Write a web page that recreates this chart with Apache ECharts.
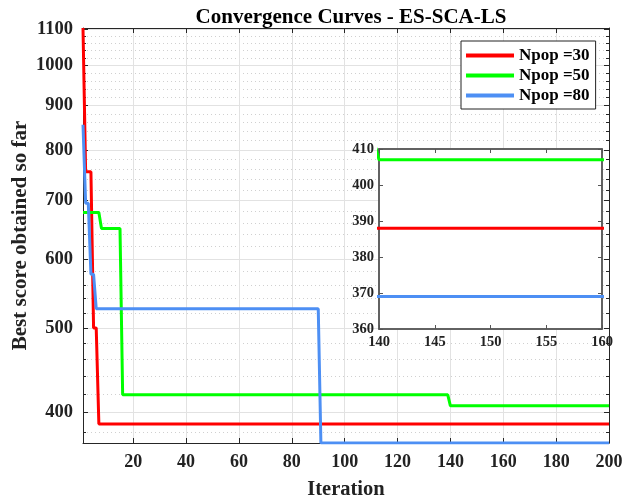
<!DOCTYPE html>
<html>
<head>
<meta charset="utf-8">
<script src="https://cdn.jsdelivr.net/npm/echarts@6/dist/echarts.min.js"></script>
<style>
  html, body { margin: 0; padding: 0; background: #fff; }
  #main { width: 630px; height: 500px; }
</style>
</head>
<body>
<div id="main"></div>
<script>
// step points of each curve (iteration, best score)
var names = ['Npop =30', 'Npop =50', 'Npop =80'];
var colors = ['#ff0000', '#00ff00', '#4d8ff4'];

var iterRed = [1, 2, 4, 5, 6, 7, 200];
var valRed = [1104, 755, 755, 500, 500, 388, 388];
var iterGreen = [1, 7, 8, 15, 16, 139, 140, 200];
var valGreen = [678, 678, 650, 650, 419, 419, 407, 407];
var iterBlue = [1, 2, 3, 4, 5, 6, 90, 91, 200];
var valBlue = [855, 695, 695, 576, 576, 526, 526, 369, 369];

// tick labels
var xTicks = [20, 40, 60, 80, 100, 120, 140, 160, 180, 200];
var yTicks = [400, 500, 600, 700, 800, 900, 1000, 1100];
var yMinorTicks = [380, 420, 440, 460, 480, 520, 540, 560, 580, 620, 640, 660, 680,
  720, 740, 760, 780, 820, 840, 860, 880, 920, 940, 960, 980, 1020, 1040, 1060, 1080];

var FONT = "'Liberation Serif', 'Times New Roman', serif";
var AXC = '#262626';

function pairs(xs, ys) {
  var out = [];
  for (var i = 0; i < xs.length; i++) out.push([xs[i], ys[i]]);
  return out;
}
var curves = [pairs(iterRed, valRed), pairs(iterGreen, valGreen), pairs(iterBlue, valBlue)];

var yMin = 368.9, yMax = 1104;

var series = [];
for (var k = 0; k < 3; k++) {
  series.push({
    name: names[k], type: 'line', xAxisIndex: 0, yAxisIndex: 0,
    data: curves[k], symbol: 'none', color: colors[k],
    lineStyle: { width: 3, color: colors[k] }, z: 3
  });
}
for (var k = 0; k < 3; k++) {
  series.push({
    name: names[k], type: 'line', xAxisIndex: 2, yAxisIndex: 4,
    data: curves[k], symbol: 'none', color: colors[k], clip: true,
    lineStyle: { width: 3, color: colors[k] }, z: 5
  });
}

var myChart = echarts.init(document.getElementById('main'));
myChart.setOption({
  animation: false,
  backgroundColor: '#fff',
  title: {
    text: 'Convergence Curves - ES-SCA-LS',
    left: 346, top: 2, textAlign: 'center',
    textStyle: { fontFamily: FONT, fontWeight: 'bold', fontSize: 21, color: '#000' }
  },
  legend: {
    orient: 'vertical', left: 461, top: 41,
    data: names, icon: 'rect', itemWidth: 48, itemHeight: 4, itemGap: 3,
    padding: [6, 6, 5, 5],
    backgroundColor: '#fff', borderColor: '#222', borderWidth: 1,
    textStyle: { fontFamily: FONT, fontWeight: 'bold', fontSize: 17, color: '#000' }
  },
  grid: [
    { left: 83, right: 21, top: 28, bottom: 57, outerBoundsMode: 'none' },
    { left: 379, top: 149, width: 223, height: 180, show: true, z: 1, outerBoundsMode: 'none',
      backgroundColor: '#fff', borderColor: '#666', borderWidth: 1.5 }
  ],
  xAxis: [
    { type: 'value', gridIndex: 0, position: 'bottom', min: 1, max: 200,
      name: 'Iteration', nameLocation: 'middle', nameGap: 36,
      nameTextStyle: { fontFamily: FONT, fontWeight: 'bold', fontSize: 20.5, color: '#222' },
      axisLine: { onZero: false, lineStyle: { color: AXC, width: 1 } },
      axisTick: { inside: true, length: 5, customValues: xTicks, lineStyle: { color: AXC } },
      axisLabel: { customValues: xTicks, margin: 10, fontFamily: FONT, fontWeight: 'bold', fontSize: 18, color: '#222' },
      splitLine: { show: true, lineStyle: { color: '#e2e2e2', width: 1 } } },
    { type: 'value', gridIndex: 0, position: 'top', min: 1, max: 200,
      axisLine: { onZero: false, lineStyle: { color: AXC, width: 1 } },
      axisTick: { inside: true, length: 5, customValues: xTicks, lineStyle: { color: AXC } },
      axisLabel: { show: false }, splitLine: { show: false } },
    { type: 'value', gridIndex: 1, position: 'bottom', min: 140, max: 160, interval: 5, z: 2,
      axisLine: { onZero: false, lineStyle: { color: '#555', width: 1.5 } },
      axisTick: { inside: true, length: 4, lineStyle: { color: '#555' } },
      axisLabel: { margin: 6, fontFamily: FONT, fontWeight: 'bold', fontSize: 14.5, color: '#222' },
      splitLine: { show: false } },
    { type: 'value', gridIndex: 1, position: 'top', min: 140, max: 160, interval: 5, z: 2,
      axisLine: { onZero: false, lineStyle: { color: '#555', width: 1.5 } },
      axisTick: { inside: true, length: 4, lineStyle: { color: '#555' } },
      axisLabel: { show: false }, splitLine: { show: false } }
  ],
  yAxis: [
    { type: 'log', gridIndex: 0, position: 'left', min: yMin, max: yMax,
      name: 'Best score obtained so far', nameLocation: 'middle', nameGap: 52, nameMoveOverlap: false,
      nameTextStyle: { fontFamily: FONT, fontWeight: 'bold', fontSize: 21, color: '#222' },
      axisLine: { show: true, lineStyle: { color: AXC, width: 1 } },
      axisTick: { inside: true, length: 5, customValues: yTicks, lineStyle: { color: AXC } },
      axisLabel: { customValues: yTicks, margin: 10, fontFamily: FONT, fontWeight: 'bold', fontSize: 18.5, color: '#222',
        formatter: function (v) { return String(Math.round(v)); } },
      splitLine: { show: true, lineStyle: { color: '#e2e2e2', width: 1 } } },
    { type: 'log', gridIndex: 0, position: 'left', min: yMin, max: yMax,
      axisLine: { show: false },
      axisTick: { inside: true, length: 3, customValues: yMinorTicks, lineStyle: { color: AXC } },
      axisLabel: { show: false },
      splitLine: { show: true, lineStyle: { color: '#d0d0d0', width: 1, type: [1, 3] } } },
    { type: 'log', gridIndex: 0, position: 'right', min: yMin, max: yMax,
      axisLine: { show: true, lineStyle: { color: AXC, width: 1 } },
      axisTick: { inside: true, length: 5, customValues: yTicks, lineStyle: { color: AXC } },
      axisLabel: { show: false }, splitLine: { show: false } },
    { type: 'log', gridIndex: 0, position: 'right', min: yMin, max: yMax,
      axisLine: { show: false },
      axisTick: { inside: true, length: 3, customValues: yMinorTicks, lineStyle: { color: AXC } },
      axisLabel: { show: false }, splitLine: { show: false } },
    { type: 'value', gridIndex: 1, position: 'left', min: 360, max: 410, interval: 10, z: 2,
      axisLine: { show: true, lineStyle: { color: '#555', width: 1.5 } },
      axisTick: { show: true, inside: true, length: 4, lineStyle: { color: '#555' } },
      axisLabel: { margin: 5, fontFamily: FONT, fontWeight: 'bold', fontSize: 14.5, color: '#222' },
      splitLine: { show: false } },
    { type: 'value', gridIndex: 1, position: 'right', min: 360, max: 410, interval: 10, z: 2,
      axisLine: { show: true, lineStyle: { color: '#555', width: 1.5 } },
      axisTick: { show: true, inside: true, length: 4, lineStyle: { color: '#555' } },
      axisLabel: { show: false }, splitLine: { show: false } }
  ],
  series: series
});
</script>
</body>
</html>
